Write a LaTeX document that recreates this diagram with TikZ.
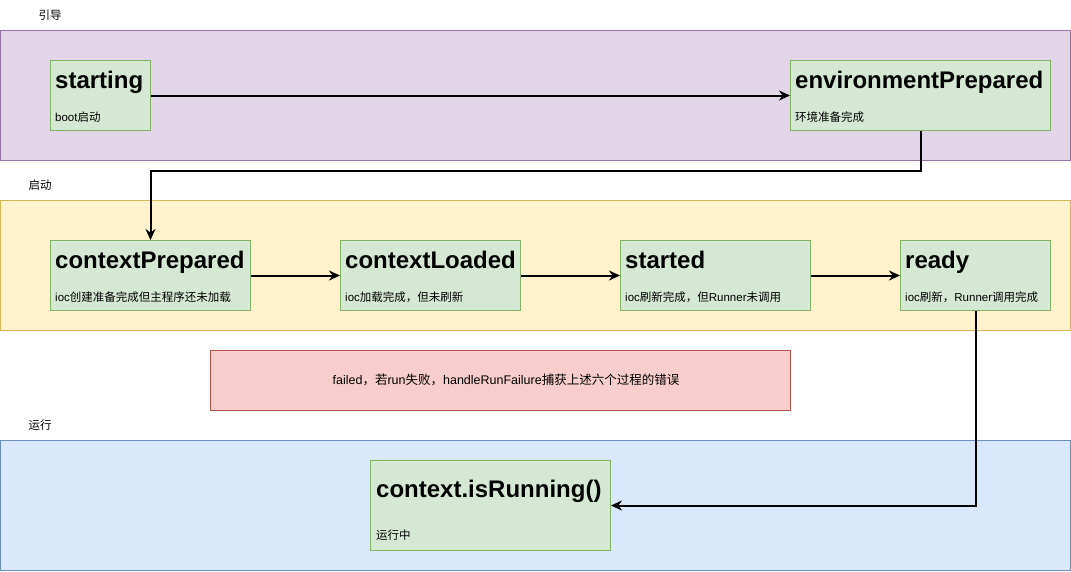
\documentclass[tikz,border=0pt]{standalone}
\usepackage{fontspec}
\setmainfont{Liberation Sans}
\newfontfamily\cjk{Noto Sans CJK SC}
\usepackage{xcolor}
\usepackage{tikz}
\usetikzlibrary{arrows.meta}
\usetikzlibrary{calc}
\usetikzlibrary{positioning}

\definecolor{bootfill}{HTML}{E1D5E7}
\definecolor{bootline}{HTML}{9673A6}
\definecolor{startfill}{HTML}{FFF2CC}
\definecolor{startline}{HTML}{D6B656}
\definecolor{runfill}{HTML}{DAE8FC}
\definecolor{runline}{HTML}{6C8EBF}
\definecolor{stagefill}{HTML}{D5E8D4}
\definecolor{stageline}{HTML}{82B366}
\definecolor{failfill}{HTML}{F8CECC}
\definecolor{failline}{HTML}{B85450}

\tikzset{
  lane/.style={line width=1pt, minimum width=1070pt, minimum height=130pt, anchor=north west, inner sep=0pt},
  lanelabel/.style={font=\fontsize{11.5}{13}\selectfont\cjk, inner sep=0pt},
  stagebox/.style={draw=stageline, fill=stagefill, line width=1pt, anchor=north west, inner sep=0pt},
  title/.style={font=\fontsize{24}{28}\selectfont\bfseries, anchor=base west, inner sep=0pt},
  note/.style={font=\fontsize{11.5}{13}\selectfont, anchor=base west, inner sep=0pt},
  flow/.style={-{Stealth[length=11pt,width=10pt]}, line width=2pt}
}

\begin{document}
\begin{tikzpicture}[x=1pt,y=-1pt]
    \useasboundingbox (0,0) rectangle (1071,571);
    % lanes
    \node[lane, draw=bootline, fill=bootfill] (bootlane) at (0,30) {};
    \node[lane, draw=startline, fill=startfill] (startlane) at (0,200) {};
    \node[lane, draw=runline, fill=runfill] (runlane) at (0,440) {};
    \node[lanelabel] (bootlabel) at (50,15) {引导};
    \node[lanelabel] (startlabel) at (40,185) {启动};
    \node[lanelabel] (runlabel) at (40,425) {运行};

    % stages
    \node[stagebox, minimum width=100pt, minimum height=70pt] (starting) at (50,60) {};
    \node[title] (startingT) at ($(starting.north west)+(5,28)$) {starting};
    \node[note] (startingN) at ($(starting.north west)+(5,61)$) {boot{\cjk 启动}};

    \node[stagebox, minimum width=260pt, minimum height=70pt] (envPrepared) at (790,60) {};
    \node[title] (envPreparedT) at ($(envPrepared.north west)+(5,28)$) {environmentPrepared};
    \node[note] (envPreparedN) at ($(envPrepared.north west)+(5,61)$) {{\cjk 环境准备完成}};

    \node[stagebox, minimum width=200pt, minimum height=70pt] (ctxPrepared) at (50,240) {};
    \node[title] (ctxPreparedT) at ($(ctxPrepared.north west)+(5,28)$) {contextPrepared};
    \node[note] (ctxPreparedN) at ($(ctxPrepared.north west)+(5,61)$) {ioc{\cjk 创建准备完成但主程序还未加载}};

    \node[stagebox, minimum width=180pt, minimum height=70pt] (ctxLoaded) at (340,240) {};
    \node[title] (ctxLoadedT) at ($(ctxLoaded.north west)+(5,28)$) {contextLoaded};
    \node[note] (ctxLoadedN) at ($(ctxLoaded.north west)+(5,61)$) {ioc{\cjk 加载完成，但未刷新}};

    \node[stagebox, minimum width=190pt, minimum height=70pt] (started) at (620,240) {};
    \node[title] (startedT) at ($(started.north west)+(5,28)$) {started};
    \node[note] (startedN) at ($(started.north west)+(5,61)$) {ioc{\cjk 刷新完成，但}Runner{\cjk 未调用}};

    \node[stagebox, minimum width=150pt, minimum height=70pt] (ready) at (900,240) {};
    \node[title] (readyT) at ($(ready.north west)+(5,28)$) {ready};
    \node[note] (readyN) at ($(ready.north west)+(5,61)$) {ioc{\cjk 刷新，}Runner{\cjk 调用完成}};

    \node[stagebox, minimum width=240pt, minimum height=90pt] (running) at (370,460) {};
    \node[title] (runningT) at ($(running.north west)+(6,37)$) {context.isRunning()};
    \node[note] (runningN) at ($(running.north west)+(6,79)$) {{\cjk 运行中}};

    % failure
    \node[draw=failline, fill=failfill, line width=1pt, minimum width=580pt, minimum height=60pt,
          font=\fontsize{12.5}{14}\selectfont] (failed) at (500,380)
          {\hspace*{12pt}failed{\cjk ，若}run{\cjk 失败，}handleRunFailure{\cjk 捕获上述六个过程的错误}};

    % transitions
    \draw[flow] (starting) -- (envPrepared);
    \draw[flow] (envPrepared.south) -- ++(0,40) -| (ctxPrepared.north);
    \draw[flow] (ctxPrepared) -- (ctxLoaded);
    \draw[flow] (ctxLoaded) -- (started);
    \draw[flow] (started) -- (ready);
    \draw[flow] (ready.south) |- (running.east);
\end{tikzpicture}
\end{document}
